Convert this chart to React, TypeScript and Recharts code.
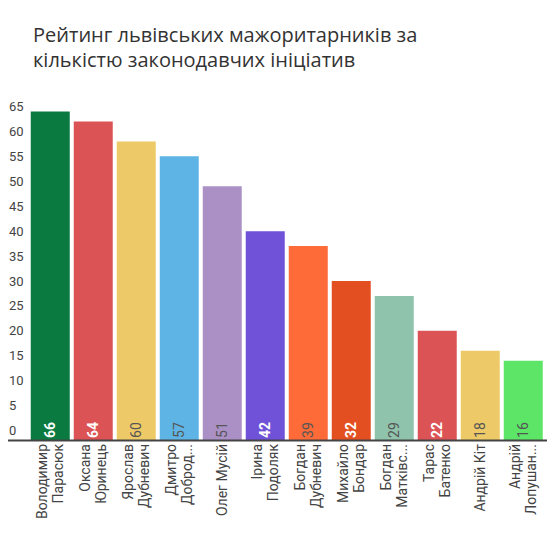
import React from "react";
import { BarChart, Bar, XAxis, YAxis, Cell, LabelList } from "recharts";

const TITLE_LINES = [
  "Рейтинг львівських мажоритарників за",
  "кількістю законодавчих ініціатив",
];

const NAMES = [
  "Володимир Парасюк",
  "Оксана Юринець",
  "Ярослав Дубневич",
  "Дмитро Добродомов",
  "Олег Мусій",
  "Ірина Подоляк",
  "Богдан Дубневич",
  "Михайло Бондар",
  "Богдан Матківський",
  "Тарас Батенко",
  "Андрій Кіт",
  "Андрій Лопушанський",
];

const LABEL_LINES: string[][] = [
  ["Володимир", "Парасюк"],
  ["Оксана", "Юринець"],
  ["Ярослав", "Дубневич"],
  ["Дмитро", "Доброд..."],
  ["Олег Мусій"],
  ["Ірина", "Подоляк"],
  ["Богдан", "Дубневич"],
  ["Михайло", "Бондар"],
  ["Богдан", "Матківс..."],
  ["Тарас", "Батенко"],
  ["Андрій Кіт"],
  ["Андрій", "Лопушан..."],
];

const VALUES = [66, 64, 60, 57, 51, 42, 39, 32, 29, 22, 18, 16];

const Y_TICKS = [0, 5, 10, 15, 20, 25, 30, 35, 40, 45, 50, 55, 60, 65];

const COLORS = [
  "#0a7a41",
  "#dc5356",
  "#edc967",
  "#5eb5e5",
  "#ab90c6",
  "#7052d8",
  "#fe6a38",
  "#e44f21",
  "#8fc3ab",
  "#dc5356",
  "#edc967",
  "#5ce566",
];

const LIGHT_TEXT = [true, true, false, false, false, true, false, true, false, true, false, false];

const data = NAMES.map((name, i) => ({ name, value: VALUES[i], idx: i }));

const FONT = "Roboto, 'Noto Sans', sans-serif";

const YTick = (props: any) => {
  const { y, payload } = props;
  return (
    <text
      x={9}
      y={y - 10}
      dy="0.35em"
      textAnchor="start"
      fontSize={13}
      fill="#444"
      fontFamily={FONT}
    >
      {payload.value}
    </text>
  );
};

const XTick = (props: any) => {
  const { x, y, index } = props;
  const lines = LABEL_LINES[index] || [];
  const n = lines.length;
  return (
    <g transform={`translate(${x},${y}) rotate(-90)`}>
      {lines.map((ln, k) => (
        <text
          key={k}
          x={0}
          y={(k - (n - 1) / 2) * 16.5}
          textAnchor="end"
          dominantBaseline="central"
          fontSize={14}
          fill="#444"
          fontFamily={FONT}
        >
          {ln}
        </text>
      ))}
    </g>
  );
};

const ValueLabel = (props: any) => {
  const { x, y, width, height, value, index } = props;
  const cx = x + width / 2;
  const cy = y + height - 10.5;
  const light = LIGHT_TEXT[index];
  return (
    <text
      transform={`translate(${cx},${cy}) rotate(-90)`}
      textAnchor="middle"
      dominantBaseline="central"
      fontSize={14}
      fontWeight={light ? 700 : 400}
      fill={light ? "#ffffff" : "#555"}
      fontFamily={FONT}
    >
      {value}
    </text>
  );
};

export default function App() {
  return (
    <div
      style={{
        position: "absolute",
        left: 0,
        top: 0,
        width: 554,
        height: 536,
        background: "#fff",
      }}
    >
      <div
        style={{
          position: "absolute",
          left: 33,
          top: 22,
          fontFamily: "'Open Sans', 'Noto Sans', sans-serif",
          fontSize: 20,
          lineHeight: "25px",
          color: "#333",
          whiteSpace: "nowrap",
        }}
      >
        {TITLE_LINES.map((t, i) => (
          <div key={i}>{t}</div>
        ))}
      </div>
      <BarChart
        width={554}
        height={536}
        data={data}
        margin={{ top: 111.5, right: 7, bottom: 0, left: 0 }}
        barCategoryGap={2.25}
      >
        <YAxis
          width={8}
          domain={[0, 66]}
          ticks={Y_TICKS}
          axisLine={false}
          tickLine={false}
          tick={<YTick />}
          interval={0}
        />
        <XAxis
          dataKey="name"
          height={95.5}
          padding={{ left: 20.5, right: 2.5 }}
          axisLine={{ stroke: "#444", strokeWidth: 2 }}
          tickLine={false}
          tickSize={0}
          tickMargin={3.5}
          interval={0}
          tick={<XTick />}
        />
        <Bar dataKey="value" isAnimationActive={false}>
          {data.map((d, i) => (
            <Cell key={i} fill={COLORS[i]} />
          ))}
          <LabelList dataKey="value" content={<ValueLabel />} />
        </Bar>
      </BarChart>
    </div>
  );
}
